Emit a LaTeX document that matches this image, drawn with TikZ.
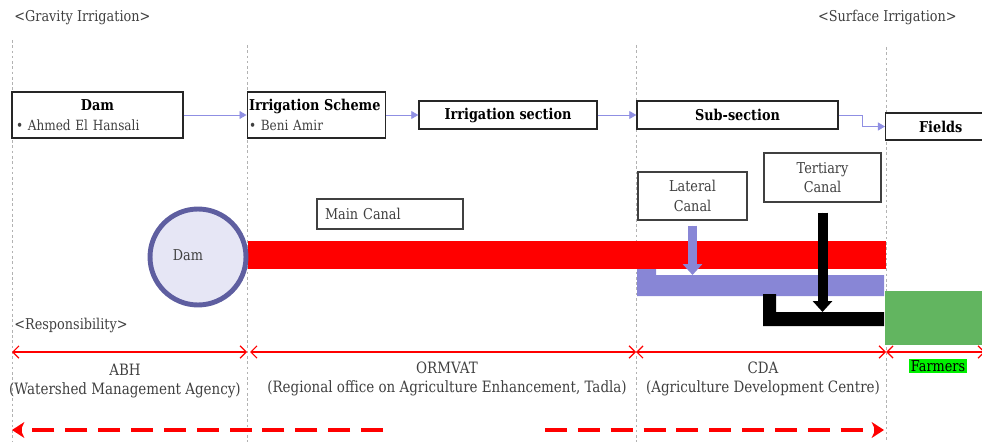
\documentclass[tikz,border=0pt]{standalone}
\usepackage{fontspec}
\setmainfont{DejaVu Serif}[FakeStretch=0.86]
\usetikzlibrary{positioning,arrows.meta}
\definecolor{inktext}{HTML}{404040}
\definecolor{flowblue}{HTML}{8F8FE3}
\definecolor{lateralblue}{HTML}{8886D6}
\definecolor{damedge}{HTML}{5E5EA0}
\definecolor{damfill}{HTML}{E6E6F5}
\definecolor{fieldgreen}{HTML}{62B560}
\definecolor{farmgreen}{HTML}{00F000}

\begin{document}
\begin{tikzpicture}[
        x=0.02cm, y=-0.02cm,
        font=\fontsize{8}{11}\selectfont,
        stagebox/.style={rectangle, draw=black!85, line width=0.8pt, fill=white, inner sep=2pt},
        titlebox/.style={stagebox, font=\fontsize{8.5}{11}\selectfont\bfseries},
        canaltag/.style={rectangle, draw=black!75, line width=0.7pt, fill=white, text=inktext, align=center, font=\fontsize{8.5}{11}\selectfont},
        plain/.style={text=inktext, inner sep=0pt, font=\fontsize{8.5}{10.5}\selectfont},
        agency/.style={plain, align=center, font=\fontsize{8.9}{10.5}\selectfont},
        flow/.style={draw=flowblue, line width=0.5pt, -{Triangle[length=4pt,width=4.5pt]}},
        feeder/.style={line width=5.1pt, -{Triangle[length=6.2pt,width=10.8pt]}},
        span/.style={draw=red, line width=0.7pt, {Straight Barb[length=3.5pt,width=7pt]}-{Straight Barb[length=3.5pt,width=7pt]}},
        divider/.style={draw=black!30, line width=0.4pt, dash pattern=on 1.5pt off 1.5pt},
        trend/.style={draw=red, line width=2.3pt, dash pattern=on 12.5pt off 6.2pt, -{Stealth[length=7pt,width=9pt,inset=2pt]}}
    ]
        \useasboundingbox (0,0) rectangle (982,442);

        \foreach \x/\y in {12/40, 247/45, 636/45, 886/47}
            \draw[divider] (\x,\y) -- (\x,442);

        \node[plain, anchor=west] (gravity) at (14,18) {<Gravity Irrigation>};
        \node[plain, anchor=east] (surface) at (957,17) {<Surface Irrigation>};
        \node[plain, anchor=west] (resp) at (14,325) {<Responsibility>};

        % supply chain
        \node[stagebox, minimum width=3.42cm, minimum height=0.92cm, text width=3.26cm, align=left] (dambox) at (97.5,115)
            {\makebox[3.26cm]{\bfseries\fontsize{8.5}{11}\selectfont Dam}\\{\color{inktext}• Ahmed El Hansali}};
        \node[stagebox, inner sep=1pt, minimum width=2.74cm, minimum height=0.92cm, text width=2.7cm, align=left] (scheme) at (316.5,115)
            {{\bfseries\fontsize{8.5}{11}\selectfont Irrigation Scheme}\\{\color{inktext}• Beni Amir}};
        \node[titlebox, minimum width=3.56cm, minimum height=0.56cm] (section) at (508,115) {Irrigation section};
        \node[titlebox, minimum width=4.02cm, minimum height=0.56cm] (subsection) at (737.5,115) {Sub-section};
        \node[titlebox, minimum width=2.2cm, minimum height=0.54cm, anchor=west] (fields) at (885,126.5) {Fields};

        \draw[flow] (dambox) -- (scheme);
        \draw[flow] (scheme) -- (section);
        \draw[flow] (section) -- (subsection);
        \draw[flow] (subsection.east) -- ++(24,0) |- (fields.west);

        % canals
        \fill[red] (248,241) rectangle (886,269);
        \fill[lateralblue] (637,269) -- (656,269) -- (656,275) -- (884,275) -- (884,296) -- (637,296) -- cycle;
        \fill[black] (763,294) -- (776,294) -- (776,312) -- (884,312) -- (884,326) -- (763,326) -- cycle;
        \fill[fieldgreen] (885,291) rectangle (990,345);

        \node[circle, draw=damedge, fill=damfill, line width=2.8pt, minimum size=1.92cm] (damnode) at (198,257) {};
        \node[plain] (damtext) at (188,255) {Dam};

        \node[canaltag, minimum width=2.92cm, minimum height=0.6cm, text width=2.6cm, align=left] (maintag) at (390,214) {Main Canal};
        \node[canaltag, minimum width=2.18cm, minimum height=0.96cm] (lateraltag) at (692.5,196) {Lateral\\Canal};
        \node[canaltag, minimum width=2.34cm, minimum height=0.98cm] (tertiarytag) at (822.5,177.5) {Tertiary\\Canal};

        \coordinate (lateraltip) at (692.5,275);
        \coordinate (tertiarytip) at (822.5,312);
        \draw[feeder, draw=lateralblue, fill=lateralblue] ([yshift=-0.1cm]lateraltag.south) -- (lateraltip);
        \draw[feeder, draw=black, fill=black, line width=5.7pt] ([yshift=-0.2cm]tertiarytag.south) -- (tertiarytip);

        % responsibility
        \coordinate (b0) at (12,352);
        \coordinate (b1) at (247,352);
        \coordinate (b2) at (250,352);
        \coordinate (b3) at (636,352);
        \coordinate (b4) at (886,352);
        \coordinate (b5) at (985,352);
        \draw[span] (b0) -- (b1);
        \draw[span] (b2) -- (b3);
        \draw[span] (b3) -- (b4);
        \draw[span] (b4) -- (b5);

        \node[agency] (abh) at (125,381) {ABH\\(Watershed Management Agency)};
        \node[agency] (ormvat) at (447,379) {ORMVAT\\(Regional office on Agriculture Enhancement, Tadla)};
        \node[agency] (cda) at (763,379) {CDA\\(Agriculture Development Centre)};
        \node[plain, fill=farmgreen, inner sep=1pt, text=black] (farmers) at (938,366) {Farmers};

        \coordinate (t0) at (383,430);
        \coordinate (t1) at (12,430);
        \coordinate (t2) at (545,430);
        \coordinate (t3) at (884,430);
        \draw[trend] (t0) -- (t1);
        \draw[trend] (t2) -- (t3);
    \end{tikzpicture}
\end{document}
